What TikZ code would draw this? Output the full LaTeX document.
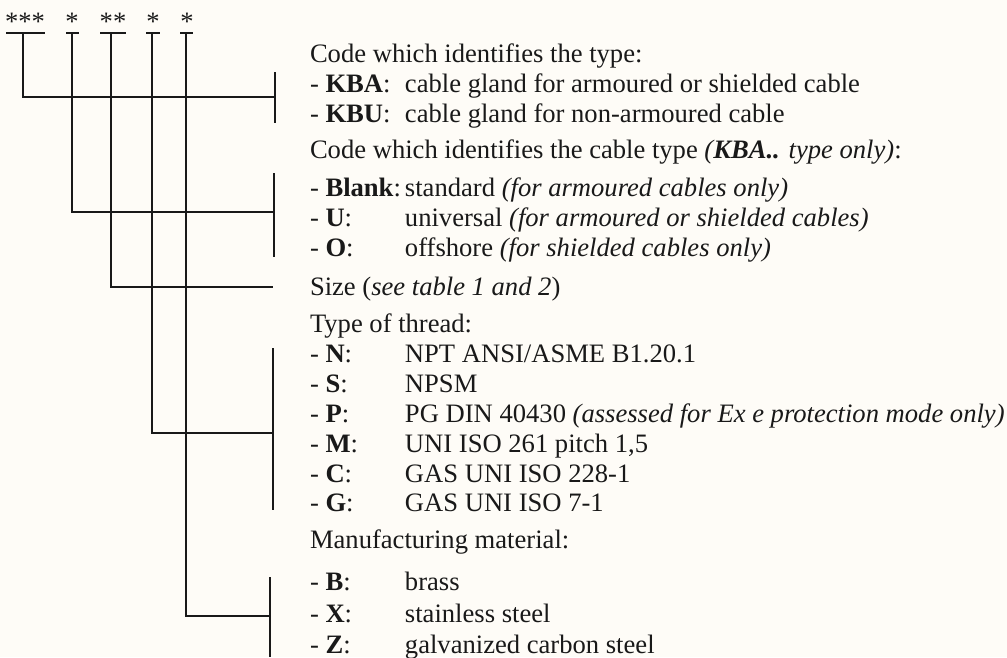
\documentclass[tikz,border=0pt]{standalone}
\usepackage{fontspec}
\setmainfont{Liberation Serif}
\definecolor{ink}{RGB}{25,25,25}
\definecolor{paper}{RGB}{254,252,247}
\newcommand{\txtsz}{\fontsize{26.6}{30}\selectfont}
\newcommand{\itm}[2]{\makebox[95pt][l]{- \textbf{#1}:}#2}
\begin{document}
\begin{tikzpicture}[x=1pt,y=-1pt,
  lbl/.style={anchor=base west, inner sep=0pt, outer sep=0pt, font=\txtsz, text=ink},
  star/.style={anchor=base, inner sep=0pt, outer sep=0pt, font=\txtsz, text=ink},
  wire/.style={line width=1.6pt, draw=ink}]
\fill[paper] (0,0) rectangle (1007,657);
\useasboundingbox (0,0) rectangle (1007,657);

% code positions
\node[star] (s1) at (25,30) {***};
\node[star] (s2) at (72,30) {*};
\node[star] (s3) at (113,30) {**};
\node[star] (s4) at (153,30) {*};
\node[star] (s5) at (187,30) {*};

% bars under the asterisks
\coordinate (b1l) at (6,33);   \coordinate (b1r) at (45,33);
\coordinate (b2l) at (66,33);  \coordinate (b2r) at (79,33);
\coordinate (b3l) at (100,33); \coordinate (b3r) at (126,33);
\coordinate (b4l) at (146,33); \coordinate (b4r) at (160,33);
\coordinate (b5l) at (180,33); \coordinate (b5r) at (193,33);
\coordinate (t1) at (23,33);
\coordinate (t2) at (72,33);
\coordinate (t3) at (111,33);
\coordinate (t4) at (152,33);
\coordinate (t5) at (186,33);
\foreach \i in {1,...,5} {\draw[wire] (b\i l) -- (b\i r);}

% brackets on the right
\coordinate (j1) at (275,97);  \coordinate (r1a) at (275,72);  \coordinate (r1b) at (275,123);
\coordinate (j2) at (274,212); \coordinate (r2a) at (274,173); \coordinate (r2b) at (274,257);
\coordinate (j3) at (273,287);
\coordinate (j4) at (273,433); \coordinate (r4a) at (273,348); \coordinate (r4b) at (273,510);
\coordinate (j5) at (270,616); \coordinate (r5a) at (270,577); \coordinate (r5b) at (270,657);

\draw[wire] (t1) |- (j1);
\draw[wire] (t2) |- (j2);
\draw[wire] (t3) |- (j3);
\draw[wire] (t4) |- (j4);
\draw[wire] (t5) |- (j5);
\draw[wire] (r1a) -- (r1b);
\draw[wire] (r2a) -- (r2b);
\draw[wire] (r4a) -- (r4b);
\draw[wire] (r5a) -- (r5b);

% texts
\node[lbl] (h1) at (310,62) {Code which identifies the type:};
\node[lbl] (kba) at (310,92) {\itm{KBA}{cable gland for armoured or shielded cable}};
\node[lbl] (kbu) at (310,122) {\itm{KBU}{cable gland for non-armoured cable}};
\node[lbl] (h2) at (310,158) {Code which identifies the cable type \textit{(\textbf{KBA..} type only)}:};
\node[lbl] (blank) at (310,196) {\itm{Blank}{standard \textit{(for armoured cables only)}}};
\node[lbl] (uu) at (310,226) {\itm{U}{universal \textit{(for armoured or shielded cables)}}};
\node[lbl] (oo) at (310,256) {\itm{O}{offshore \textit{(for shielded cables only)}}};
\node[lbl] (h3) at (310,295) {Size (\textit{see table 1 and 2})};
\node[lbl] (h4) at (310,332) {Type of thread:};
\node[lbl] (tn) at (310,362) {\itm{N}{NPT ANSI/ASME B1.20.1}};
\node[lbl] (ts) at (310,392) {\itm{S}{NPSM}};
\node[lbl] (tp) at (310,422) {\itm{P}{PG DIN 40430 \textit{(assessed for Ex e protection mode only)}}};
\node[lbl] (tm) at (310,452) {\itm{M}{UNI ISO 261 pitch 1,5}};
\node[lbl] (tc) at (310,482) {\itm{C}{GAS UNI ISO 228-1}};
\node[lbl] (tg) at (310,511) {\itm{G}{GAS UNI ISO 7-1}};
\node[lbl] (h5) at (310,548) {Manufacturing material:};
\node[lbl] (mb) at (310,590) {\itm{B}{brass}};
\node[lbl] (mx) at (310,622) {\itm{X}{stainless steel}};
\node[lbl] (mz) at (310,653) {\itm{Z}{galvanized carbon steel}};
\end{tikzpicture}
\end{document}
